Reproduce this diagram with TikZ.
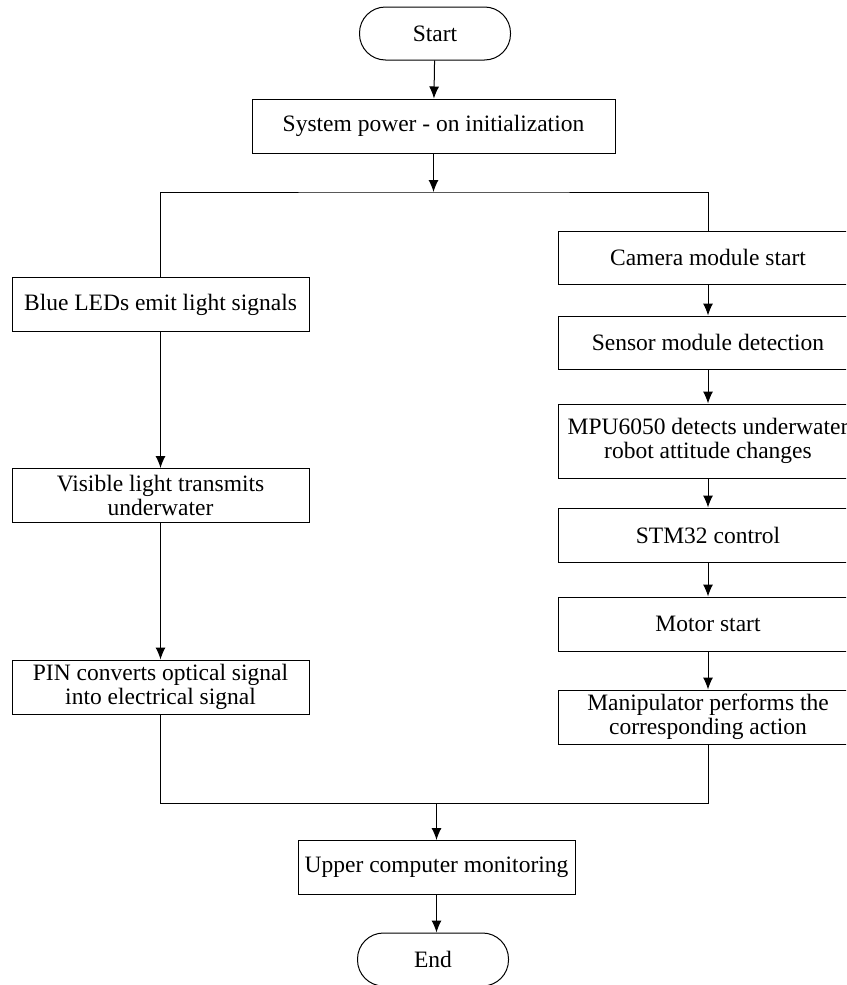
\documentclass[tikz,border=0pt]{standalone}
\usepackage{fontspec}
\setmainfont{Liberation Serif}
\usetikzlibrary{arrows.meta, positioning}

\begin{document}
\begin{tikzpicture}[
    x=1pt, y=-1pt,
    box/.style={draw, line width=1pt, inner xsep=0pt, minimum width=#1, minimum height=54pt, align=center, font=\fontsize{23.5}{24}\selectfont},
    box/.default=297pt,
    term/.style={draw, line width=1pt, rounded corners=26pt, minimum width=151pt, minimum height=53pt, font=\fontsize{23.5}{24}\selectfont},
    arrow/.style={-{Latex[length=12pt, width=10pt]}, line width=1pt},
    wire/.style={line width=1pt}
]
    \clip (0,0) rectangle (846,985);

    \node[term] (start) at (435,33.5) {Start};
    \node[box=363pt] (init) at (433.5,126) {System power - on initialization};
    \coordinate (split) at (433.5,192);

    % left branch
    \node[box] (led)   at (160.5,304.5) {Blue LEDs emit light signals};
    \node[box] (light) at (160.5,495.5) {Visible light transmits\\underwater};
    \node[box] (pin)   at (160.5,687)   {PIN converts optical signal\\into electrical signal};

    % right branch
    \node[box=300pt, minimum height=53pt] (cam)    at (708,257.5) {Camera module start};
    \node[box=300pt, minimum height=53pt] (sensor) at (708,342.5) {Sensor module detection};
    \node[box=300pt, minimum height=74pt] (mpu)    at (708,441)   {MPU6050 detects underwater\\robot attitude changes};
    \node[box=300pt] (stm)    at (708,535) {STM32 control};
    \node[box=300pt] (motor)  at (708,624) {Motor start};
    \node[box=300pt] (manip)  at (708,717) {Manipulator performs the\\corresponding action};

    \coordinate (merge) at (436.5,803);
    \node[box=277pt] (upper) at (436.5,867.5) {Upper computer monitoring};
    \node[term] (fin) at (433,959.5) {End};

    \draw[arrow] (start) -- (init);
    \draw[arrow] (init) -- (split);
    \draw[wire] (led.north) |- (split) -| (cam.north);

    \draw[arrow] (led) -- (light);
    \draw[arrow] (light) -- (pin);

    \draw[arrow] (cam) -- (sensor);
    \draw[arrow] (sensor) -- (mpu);
    \draw[arrow] (mpu) -- (stm);
    \draw[arrow] (stm) -- (motor);
    \draw[arrow] (motor) -- (manip);

    \draw[wire] (pin.south) |- (merge) -| (manip.south);
    \draw[arrow] (merge) -- (upper);
    \draw[arrow] (upper) -- (upper |- fin.north);
\end{tikzpicture}
\end{document}
